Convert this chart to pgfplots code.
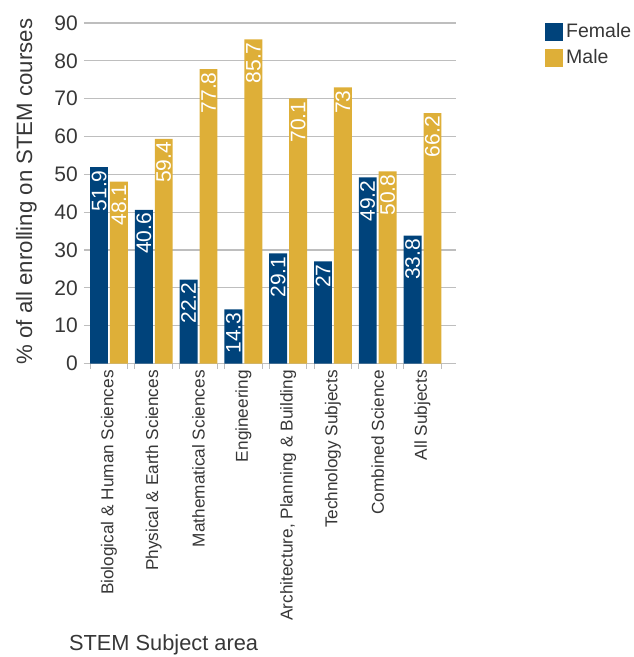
\documentclass[border=0pt]{standalone}
\usepackage{pgfplots}
\pgfplotsset{compat=1.18}
\usepackage{fontspec}
\setmainfont{Liberation Sans}
\definecolor{fem}{RGB}{0,67,123}
\definecolor{mal}{RGB}{222,175,56}
\definecolor{gridc}{RGB}{190,190,190}
\definecolor{txt}{RGB}{55,55,55}
\begin{document}
\begin{tikzpicture}
\path[use as bounding box] (-84pt,-293.5pt) rectangle (550pt,363.5pt);
\begin{axis}[
  at={(0pt,0pt)}, anchor=south west,
  scale only axis, width=372pt, height=340.5pt,
  xmin=-0.558, xmax=7.748, ymin=0, ymax=90,
  ybar=2pt, bar width=0.4,
  /pgf/number format/assume math mode=true,
  axis lines*=left,
  y axis line style={draw=none},
  x axis line style={draw=gridc, line width=1.3pt},
  ymajorgrids, grid style={draw=gridc, line width=1.3pt},
  ytick={0,10,...,90},
  xtick={0,...,7},
  xticklabels={Biological \& Human Sciences, Physical \& Earth Sciences, Mathematical Sciences, Engineering, {Architecture, Planning \& Building}, Technology Subjects, Combined Science, All Subjects},
  minor xtick={-0.42,0.42,0.58,1.42,1.58,2.42,2.58,3.42,3.58,4.42,4.58,5.42,5.58,6.42,6.58,7.42},
  major tick length=0pt, minor tick length=5pt,
  tick align=outside,
  minor tick style={draw=gridc, line width=1pt},
  xticklabel style={rotate=90, anchor=east, inner xsep=6.5pt, inner ysep=0pt, font=\fontsize{17.2}{19}\selectfont, text=txt},
  yticklabel style={anchor=east, inner sep=0pt, xshift=-6pt, font=\fontsize{21}{24}\selectfont, text=txt},
  ylabel={\% of all enrolling on STEM courses},
  ylabel style={at={(axis description cs:-0.155,0.505)}, anchor=center, rotate=0, font=\fontsize{22.2}{25}\selectfont, text=txt},
  xlabel={STEM Subject area},
  xlabel style={at={(axis description cs:-0.0497,-0.8267)}, anchor=west, font=\fontsize{21.8}{24}\selectfont, text=txt},
  nodes near coords,
  every node near coord/.append style={rotate=90, anchor=east, text=white, inner sep=3pt, font=\fontsize{21}{24}\selectfont},
  legend style={at={(axis description cs:1.2392,1.002)}, anchor=north west, draw=none, fill=none, inner sep=0pt, row sep=8pt, font=\fontsize{19.5}{22}\selectfont, text=txt, nodes={inner xsep=3pt, inner ysep=1pt}},
  legend cell align=left,
  legend image code/.code={\fill[#1] (0pt,-9pt) rectangle (18pt,9pt);},
]
\addplot[fill=fem, draw=none] coordinates {(0,51.9) (1,40.6) (2,22.2) (3,14.3) (4,29.1) (5,27) (6,49.2) (7,33.8)};
\addplot[fill=mal, draw=none] coordinates {(0,48.1) (1,59.4) (2,77.8) (3,85.7) (4,70.1) (5,73) (6,50.8) (7,66.2)};
\legend{Female, Male}
\end{axis}
\end{tikzpicture}
\end{document}
